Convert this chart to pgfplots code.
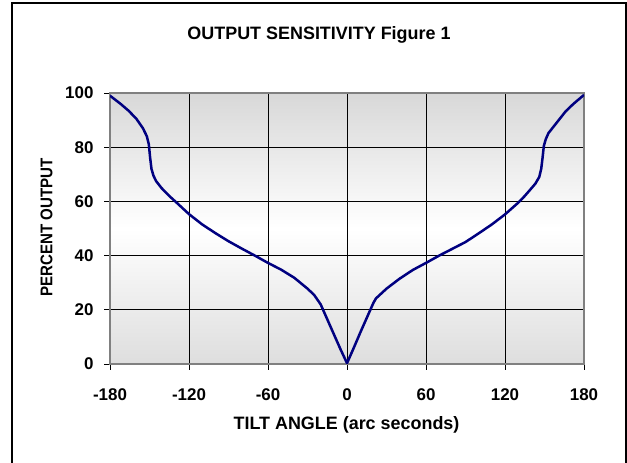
\documentclass[border=0pt]{standalone}
\usepackage{pgfplots}
\pgfplotsset{compat=1.18}
\usepackage{fontspec}
\setmainfont{Liberation Sans}
\usepackage{graphicx}
\definecolor{curve}{HTML}{000080}
\definecolor{bggray}{HTML}{D8D8D8}
\definecolor{axgray}{HTML}{808080}
\begin{document}
\begin{tikzpicture}[x=1bp,y=1bp]
\useasboundingbox (0,0) rectangle (627,463);
\draw[line width=1.5bp] (12,-10) -- (12,460) -- (626,460) -- (626,-10);
\begin{axis}[at={(110bp,99bp)}, anchor=south west, scale only axis, width=474bp, height=271bp,
 xmin=-180,xmax=180,ymin=0,ymax=100,
 xtick={-180,-120,-60,0,60,120,180}, xticklabels={-180,-120,-60,0,60,120,180},
 ytick={0,20,40,60,80,100},
 grid=major, major grid style={black, line width=0.8bp},
 axis line style={draw=axgray, line width=2.5bp},
 tick align=outside, tick pos=left, major tick length=6bp, tick style={black, line width=0.8bp},
 ticklabel style={font=\fontsize{17}{20}\selectfont\bfseries},
 xticklabel style={yshift=-15bp},
 yticklabel style={xshift=-7bp},
 /pgf/number format/assume math mode=true,
 axis background/.style={top color=bggray, bottom color=bggray!85, middle color=white},
]
\addplot[curve, line width=2.5bp, mark=none] coordinates {
(-180,99) (-172,96) (-166,93.5) (-160,90.5) (-155,87) (-152,84) (-150.5,81) (-149.5,76)
(-148.5,72) (-147,69.5) (-145,67.5) (-141,65) (-135,62) (-130,59.8) (-120,55.3) (-110,51.5)
(-100,48.3) (-90,45.3) (-80,42.6) (-70,40) (-60,37.3) (-50,34.8) (-40,31.8) (-30,27.8)
(-25,25.5) (-20,22) (-15,16.5) (-10,11) (-5,5.5) (0,0.3)
(5,5.8) (10,11.5) (15,17) (20,22.5) (22,24.2) (30,27.8) (40,31.5) (50,34.7) (60,37.3)
(70,40) (80,42.5) (90,45) (100,48.2) (110,51.5) (120,55.2) (130,59.5) (135,62) (140,64.8)
(143,66.5) (146,69) (147.5,72) (148.5,76) (149.5,80.5) (151,83) (153,85.2) (160,89.5)
(166,93.2) (172,96) (180,99.3)
};
\end{axis}
\node[anchor=base, font=\fontsize{18}{20}\selectfont\bfseries] at (319,423) {OUTPUT SENSITIVITY Figure 1};
\node[anchor=base, font=\fontsize{18}{20}\selectfont\bfseries] at (346.5,33) {TILT ANGLE (arc seconds)};
\node[rotate=90, font=\fontsize{17}{20}\selectfont\bfseries] at (46.5,235.5) {\scalebox{0.89}[1]{PERCENT OUTPUT}};
\end{tikzpicture}
\end{document}
